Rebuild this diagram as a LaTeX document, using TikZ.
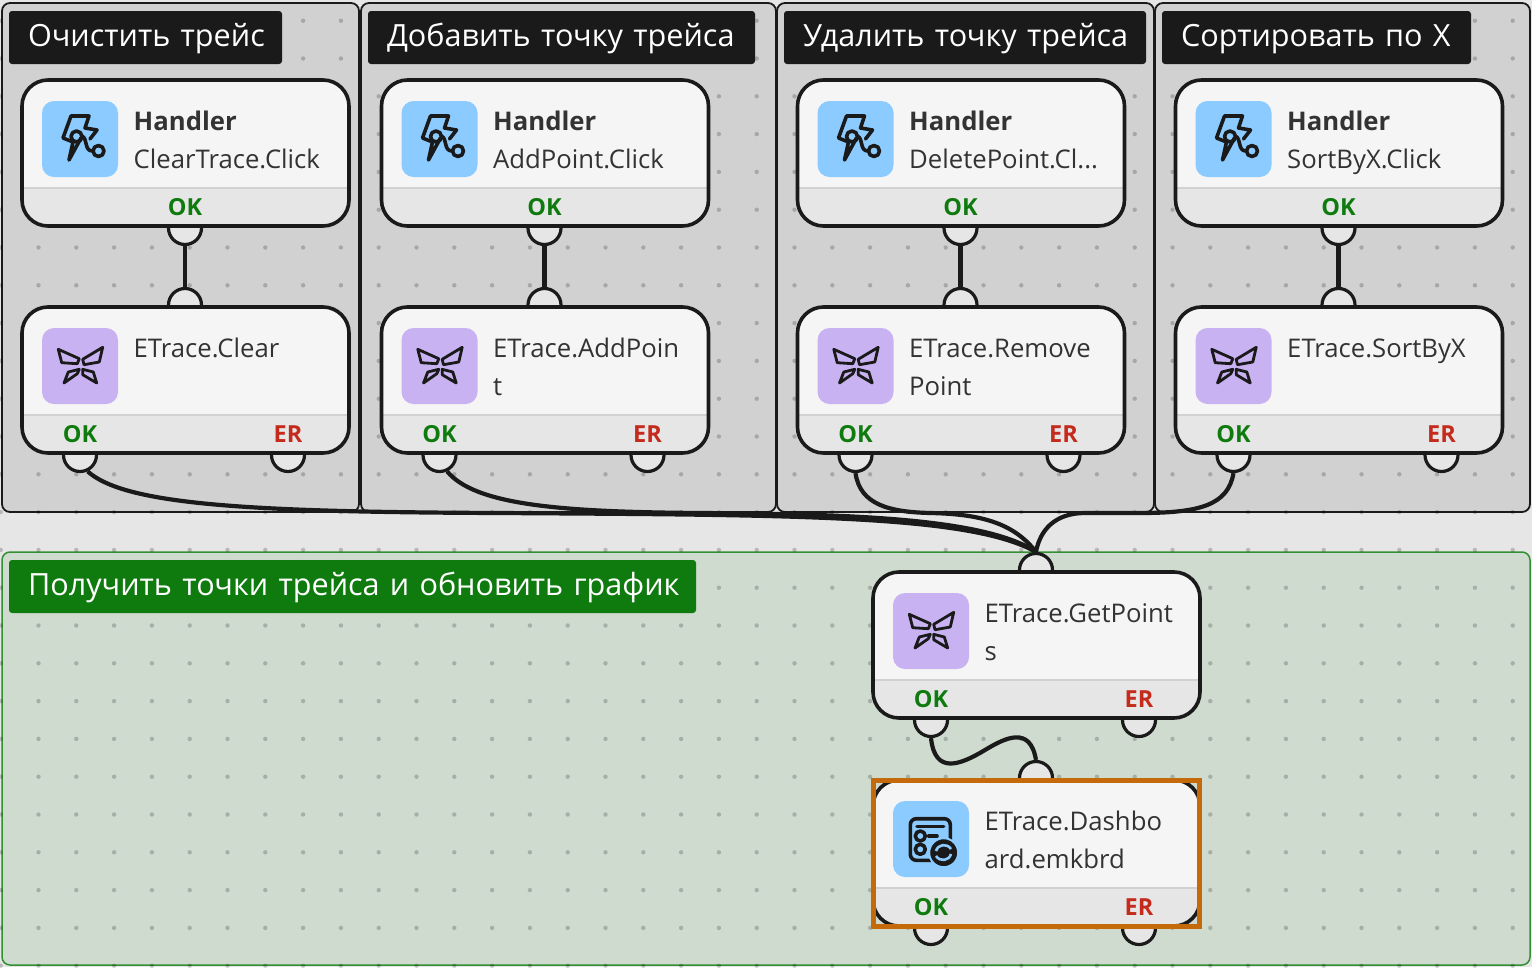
\documentclass[tikz,border=0pt]{standalone}
\usepackage{fontspec}
\setmainfont{Open Sans}
\usetikzlibrary{positioning, calc}
\definecolor{canvasgray}{HTML}{E6E6E6}
\definecolor{groupgray}{HTML}{D1D1D1}
\definecolor{groupgreen}{HTML}{CFDBCF}
\definecolor{okgreen}{HTML}{0F7B0F}
\definecolor{ergred}{HTML}{C42B1C}
\definecolor{inkdark}{HTML}{1A1A1A}
\definecolor{textdark}{HTML}{333333}
\definecolor{iconblue}{HTML}{8CCBFF}
\definecolor{iconviolet}{HTML}{C9B2F2}
\definecolor{selectorange}{HTML}{C46A0A}
\tikzset{
  % Group panels
  grouppanel/.style={
    draw=inkdark, line width=1.8pt, fill=groupgray, rounded corners=8pt
  },
  greenpanel/.style={
    draw=okgreen!85, line width=1.5pt, fill=groupgreen, rounded corners=8pt
  },
  grouptitle/.style={
    anchor=north west, fill=inkdark, text=white, rounded corners=3pt,
    font=\fontsize{30.6}{35}\selectfont, align=left,
    text height=23pt, text depth=6pt,
    inner xsep=19pt, inner ysep=0pt, minimum height=53pt, outer sep=0pt
  },
  griddot/.style={black, opacity=0.2},
  % Blocks
  blockbody/.style={
    anchor=north west, rectangle, draw=inkdark, line width=3.6pt, fill=white!96!black,
    rounded corners=26pt, minimum width=327pt, minimum height=146pt,
    inner sep=0pt, outer sep=0pt,
    path picture={
      \fill[canvasgray, sharp corners] ([yshift=38pt]path picture bounding box.south west)
        rectangle (path picture bounding box.south east);
      \draw[black!18, line width=1.8pt, sharp corners] ([yshift=38pt]path picture bounding box.south west)
        -- ([yshift=38pt]path picture bounding box.south east);
    }
  },
  blockport/.style={
    circle, draw=inkdark, line width=3.2pt, fill=canvasgray,
    minimum size=33pt, inner sep=0pt, outer sep=1.6pt
  },
  iconbox/.style={
    anchor=north west, rectangle, rounded corners=12pt,
    minimum size=76pt, inner sep=0pt, outer sep=0pt
  },
  blocktext/.style={
    anchor=base west, text=textdark, inner sep=0pt,
    font=\fontsize{25.7}{30}\selectfont
  },
  portlabel/.style={
    anchor=base, inner sep=0pt, font=\fontsize{23.5}{28}\selectfont\bfseries
  },
  iconstroke/.style={
    draw=inkdark, line width=3.6pt, line join=round, line cap=round
  },
  % Connector
  wire/.style={
    draw=inkdark, line width=4.2pt
  },
  selectframe/.style={
    draw=selectorange, line width=5pt, anchor=north west,
    minimum width=326pt, minimum height=146.5pt, inner sep=0pt, outer sep=0pt
  },
}
\newcommand{\iconhandler}{%
  \draw[iconstroke] (39,37) -- (27,59) -- (31,41) -- (21,37) -- (29,15) -- (47,15) -- (43,27) -- (55,29) -- (48,38);
  \draw[iconstroke] (34.5,35.5) circle (5.5pt);
  \draw[iconstroke] (56.5,50) circle (5.5pt);
  \draw[iconstroke] (40,35) .. controls (46,38) and (42,50) .. (50.5,50);
}
\newcommand{\iconbutterfly}{%
  \draw[iconstroke, line width=2.8pt] (16.3,21.3) -- (37.3,30.7) -- (35.3,35.7) -- (19.7,34.7) -- cycle;
  \draw[iconstroke, line width=2.8pt] (60.7,19.3) -- (57.3,34) -- (42,36.7) -- (40.7,31.3) -- cycle;
  \draw[iconstroke, line width=2.8pt] (26.3,44) -- (37.3,41.3) -- (35.3,45.7) -- (22,55) -- cycle;
  \draw[iconstroke, line width=2.8pt] (40.7,41.3) -- (51.3,44) -- (54.7,55) -- (40.7,46.7) -- cycle;
}
\newcommand{\icondashboard}{%
  \draw[iconstroke, rounded corners=6pt] (17.3,17.7) rectangle (57.3,59.3);
  \draw[iconstroke] (24,25.3) -- (50.7,25.3);
  \draw[iconstroke] (27.3,35) circle (5pt);
  \draw[iconstroke] (27.3,48.3) circle (5pt);
  \draw[iconstroke] (35.7,35) -- (44,35);
  \draw[iconstroke, line width=2pt, draw=iconblue, fill=inkdark] (50.7,51.7) circle (14.5pt);
  \draw[iconblue, line width=2.6pt] (43,50) .. controls (45,43) and (54,42) .. (58,48);
  \draw[iconblue, line width=2.6pt] (58,53) .. controls (56,60) and (47,61) .. (43,55);
}
% handler block: one output
\newcommand{\handlerblock}[3]{%
  \begin{scope}[shift={(#2)}]
    \node[blockport] (#1Ok) at (163,148) {};
    \node[blockbody] (#1) at (0,0) {};
    \node[iconbox, fill=iconblue] (#1Icon) at (20,21) {};
    \begin{scope}[shift={(20,21)}]\iconhandler\end{scope}
    \node[blocktext, font=\fontsize{25.7}{30}\selectfont\bfseries] (#1Title) at (111.5,50) {Handler};
    \node[blocktext] (#1Text) at (111.5,88) {#3};
    \node[portlabel, text=okgreen] (#1OkLabel) at (163,135) {OK};
  \end{scope}
}
% step block: input, OK and ER outputs
\newcommand{\stepblock}[6]{%
  \begin{scope}[shift={(#2)}]
    \node[blockport] (#1In) at (163,-2) {};
    \node[blockport] (#1Ok) at (58,148) {};
    \node[blockport] (#1Er) at (266,148) {};
    \node[blockbody] (#1) at (0,0) {};
    \node[iconbox, fill=#3] (#1Icon) at (20,21) {};
    \begin{scope}[shift={(20,21)}]#4\end{scope}
    \node[blocktext] (#1Text) at (111.5,50) {#5};
    \node[blocktext] (#1More) at (111.5,88) {#6};
    \node[portlabel, text=okgreen] (#1OkLabel) at (58,135) {OK};
    \node[portlabel, text=ergred] (#1ErLabel) at (266,135) {ER};
  \end{scope}
}

\begin{document}
\begin{tikzpicture}[x=1pt, y=-1pt]
  \useasboundingbox (0,0) rectangle (1532,967);
  \fill[canvasgray] (0,0) rectangle (1532,967);

  %% ── Group panels ──
  \draw[grouppanel] (2,3) rectangle (359,512);
  \draw[grouppanel] (361,3) rectangle (776,512);
  \draw[grouppanel] (777,3) rectangle (1154,512);
  \draw[grouppanel] (1155,3) rectangle (1530,512);
  \draw[greenpanel] (2,552) rectangle (1530,965);

  %% ── Grid dots ──
  \foreach \ix in {0,...,40}
    \foreach \iy in {0,...,25}
      \fill[griddot] ({0.7+37.8*\ix},{20.7+37.8*\iy}) circle (2.2pt);

  %% ── Group titles ──
  \node[grouptitle, text width=235pt] (clearTitle) at (9,11) {\mbox{Очистить трейс}};
  \node[grouptitle, text width=349pt] (addTitle) at (368,11) {\mbox{Добавить точку трейса}};
  \node[grouptitle, text width=324pt] (removeTitle) at (784,11) {\mbox{Удалить точку трейса}};
  \node[grouptitle, text width=271pt] (sortTitle) at (1162,11) {\mbox{Сортировать по X}};
  \node[grouptitle, fill=okgreen, text width=649pt] (refreshTitle) at (9,560) {\mbox{Получить точки трейса и обновить график}};

  %% ── Handlers ──
  \handlerblock{clearClick}{22,80}{ClearTrace.Click}
  \handlerblock{addClick}{381.5,80}{AddPoint.Click}
  \handlerblock{removeClick}{797.5,80}{DeletePoint.Cl...}
  \handlerblock{sortClick}{1175.5,80}{SortByX.Click}

  %% ── Steps ──
  \stepblock{clearStep}{22,307}{iconviolet}{\iconbutterfly}{ETrace.Clear}{}
  \stepblock{addStep}{381.5,307}{iconviolet}{\iconbutterfly}{ETrace.AddPoin}{t}
  \stepblock{removeStep}{797.5,307}{iconviolet}{\iconbutterfly}{ETrace.Remove}{Point}
  \stepblock{sortStep}{1175.5,307}{iconviolet}{\iconbutterfly}{ETrace.SortByX}{}
  \stepblock{pointsStep}{873,572}{iconviolet}{\iconbutterfly}{ETrace.GetPoint}{s}
  \stepblock{boardStep}{873,780}{iconblue}{\icondashboard}{ETrace.Dashbo}{ard.emkbrd}

  %% ── Connectors ──
  \draw[wire] (clearClickOk) -- (clearStepIn);
  \draw[wire] (addClickOk) -- (addStepIn);
  \draw[wire] (removeClickOk) -- (removeStepIn);
  \draw[wire] (sortClickOk) -- (sortStepIn);
  \draw[wire] (clearStepOk.-65) .. controls (125,505) and (250,512) .. (500,513)
    .. controls (800,515) and (970,515) .. (pointsStepIn.north);
  \draw[wire] (addStepOk.-65) .. controls (475,505) and (560,512) .. (700,513)
    .. controls (850,514) and (985,518) .. (pointsStepIn.north);
  \draw[wire] (removeStepOk.south) .. controls (860,505) and (890,512) .. (930,513)
    .. controls (985,514) and (1015,525) .. (pointsStepIn.north);
  \draw[wire] (sortStepOk.south) .. controls (1228,505) and (1200,513) .. (1140,513)
    -- (1085,513) .. controls (1055,513) and (1040,530) .. (pointsStepIn.north);
  \draw[wire] (pointsStepOk.south) .. controls (935,775) and (960,765) .. (985,750)
    .. controls (1005,738) and (1030,725) .. (boardStepIn.north);

  %% ── Selection ──
  \node[selectframe] (boardFrame) at (873.3,780) {};

\end{tikzpicture}
\end{document}
